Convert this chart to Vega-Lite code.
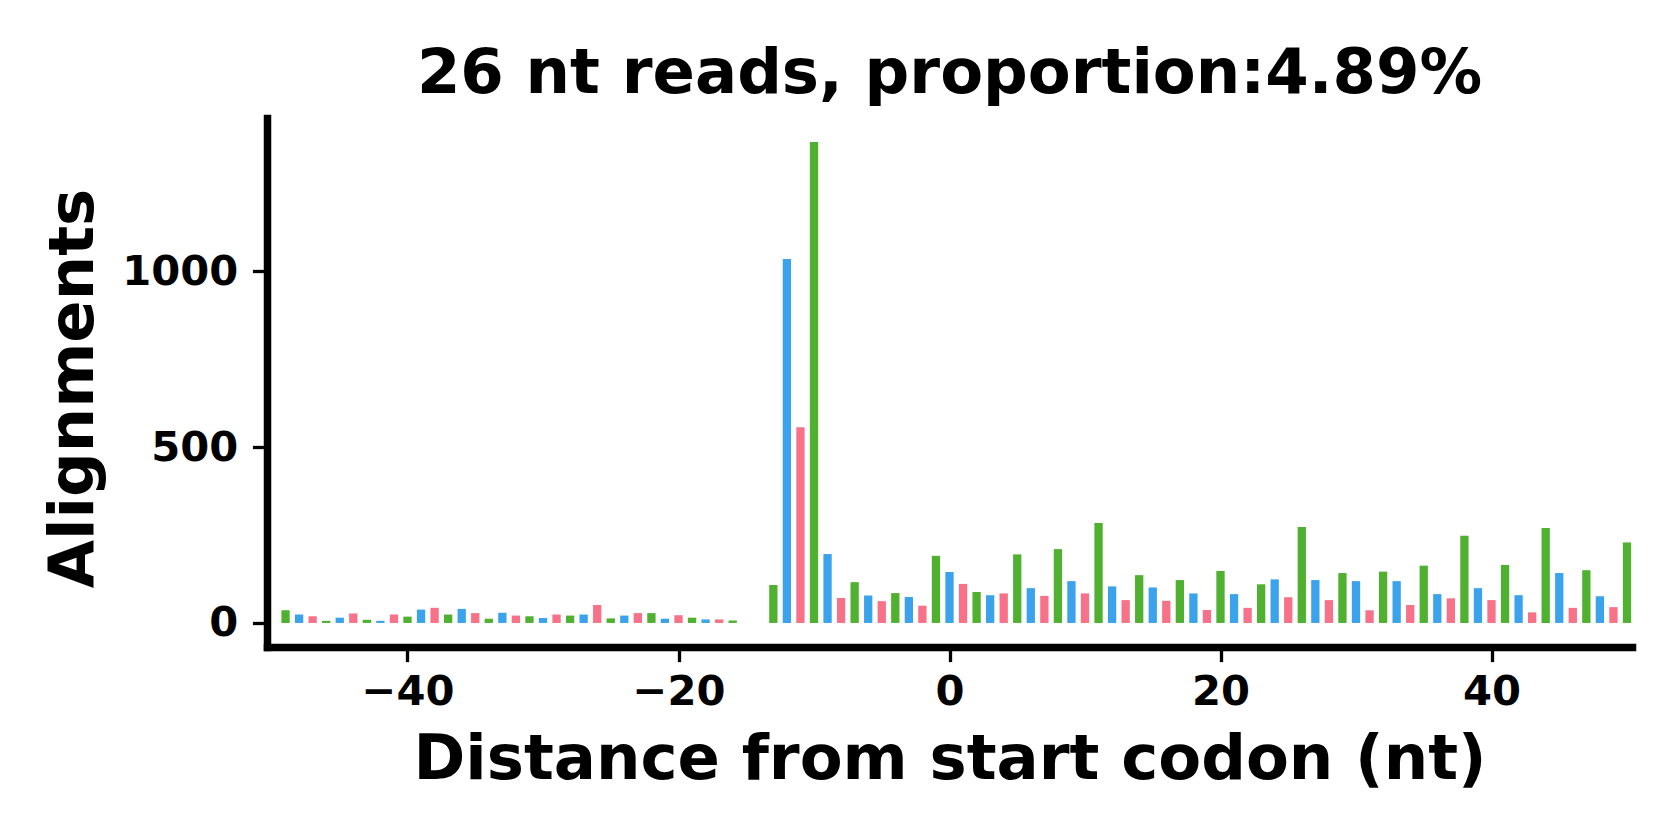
{
  "$schema": "https://vega.github.io/schema/vega-lite/v6.json",
  "autosize": "none",
  "width": 1365,
  "height": 529,
  "padding": {"left": 267, "top": 118, "right": 48, "bottom": 193},
  "background": "white",
  "title": {
    "text": "26 nt reads, proportion:4.89%",
    "font": "DejaVu Sans",
    "fontSize": 62.5,
    "fontWeight": "bold",
    "color": "black",
    "anchor": "middle",
    "baseline": "alphabetic",
    "offset": 25,
    "dy": 62
  },
  "data": {
    "values": [
      {"pos": -49, "count": 36, "frame": "2"},
      {"pos": -48, "count": 24, "frame": "0"},
      {"pos": -47, "count": 19, "frame": "1"},
      {"pos": -46, "count": 6, "frame": "2"},
      {"pos": -45, "count": 15, "frame": "0"},
      {"pos": -44, "count": 27, "frame": "1"},
      {"pos": -43, "count": 9, "frame": "2"},
      {"pos": -42, "count": 6, "frame": "0"},
      {"pos": -41, "count": 24, "frame": "1"},
      {"pos": -40, "count": 18, "frame": "2"},
      {"pos": -39, "count": 38, "frame": "0"},
      {"pos": -38, "count": 43, "frame": "1"},
      {"pos": -37, "count": 24, "frame": "2"},
      {"pos": -36, "count": 40, "frame": "0"},
      {"pos": -35, "count": 28, "frame": "1"},
      {"pos": -34, "count": 12, "frame": "2"},
      {"pos": -33, "count": 29, "frame": "0"},
      {"pos": -32, "count": 21, "frame": "1"},
      {"pos": -31, "count": 19, "frame": "2"},
      {"pos": -30, "count": 14, "frame": "0"},
      {"pos": -29, "count": 24, "frame": "1"},
      {"pos": -28, "count": 21, "frame": "2"},
      {"pos": -27, "count": 24, "frame": "0"},
      {"pos": -26, "count": 51, "frame": "1"},
      {"pos": -25, "count": 13, "frame": "2"},
      {"pos": -24, "count": 21, "frame": "0"},
      {"pos": -23, "count": 28, "frame": "1"},
      {"pos": -22, "count": 28, "frame": "2"},
      {"pos": -21, "count": 12, "frame": "0"},
      {"pos": -20, "count": 22, "frame": "1"},
      {"pos": -19, "count": 15, "frame": "2"},
      {"pos": -18, "count": 10, "frame": "0"},
      {"pos": -17, "count": 10, "frame": "1"},
      {"pos": -16, "count": 7, "frame": "2"},
      {"pos": -15, "count": 0, "frame": "0"},
      {"pos": -14, "count": 0, "frame": "1"},
      {"pos": -13, "count": 108, "frame": "2"},
      {"pos": -12, "count": 1035, "frame": "0"},
      {"pos": -11, "count": 557, "frame": "1"},
      {"pos": -10, "count": 1368, "frame": "2"},
      {"pos": -9, "count": 196, "frame": "0"},
      {"pos": -8, "count": 71, "frame": "1"},
      {"pos": -7, "count": 116, "frame": "2"},
      {"pos": -6, "count": 78, "frame": "0"},
      {"pos": -5, "count": 62, "frame": "1"},
      {"pos": -4, "count": 85, "frame": "2"},
      {"pos": -3, "count": 74, "frame": "0"},
      {"pos": -2, "count": 49, "frame": "1"},
      {"pos": -1, "count": 191, "frame": "2"},
      {"pos": 0, "count": 145, "frame": "0"},
      {"pos": 1, "count": 111, "frame": "1"},
      {"pos": 2, "count": 88, "frame": "2"},
      {"pos": 3, "count": 79, "frame": "0"},
      {"pos": 4, "count": 84, "frame": "1"},
      {"pos": 5, "count": 195, "frame": "2"},
      {"pos": 6, "count": 99, "frame": "0"},
      {"pos": 7, "count": 77, "frame": "1"},
      {"pos": 8, "count": 210, "frame": "2"},
      {"pos": 9, "count": 119, "frame": "0"},
      {"pos": 10, "count": 84, "frame": "1"},
      {"pos": 11, "count": 284, "frame": "2"},
      {"pos": 12, "count": 104, "frame": "0"},
      {"pos": 13, "count": 65, "frame": "1"},
      {"pos": 14, "count": 136, "frame": "2"},
      {"pos": 15, "count": 101, "frame": "0"},
      {"pos": 16, "count": 63, "frame": "1"},
      {"pos": 17, "count": 122, "frame": "2"},
      {"pos": 18, "count": 84, "frame": "0"},
      {"pos": 19, "count": 37, "frame": "1"},
      {"pos": 20, "count": 148, "frame": "2"},
      {"pos": 21, "count": 82, "frame": "0"},
      {"pos": 22, "count": 43, "frame": "1"},
      {"pos": 23, "count": 110, "frame": "2"},
      {"pos": 24, "count": 124, "frame": "0"},
      {"pos": 25, "count": 73, "frame": "1"},
      {"pos": 26, "count": 273, "frame": "2"},
      {"pos": 27, "count": 122, "frame": "0"},
      {"pos": 28, "count": 65, "frame": "1"},
      {"pos": 29, "count": 142, "frame": "2"},
      {"pos": 30, "count": 119, "frame": "0"},
      {"pos": 31, "count": 36, "frame": "1"},
      {"pos": 32, "count": 146, "frame": "2"},
      {"pos": 33, "count": 119, "frame": "0"},
      {"pos": 34, "count": 51, "frame": "1"},
      {"pos": 35, "count": 163, "frame": "2"},
      {"pos": 36, "count": 82, "frame": "0"},
      {"pos": 37, "count": 70, "frame": "1"},
      {"pos": 38, "count": 248, "frame": "2"},
      {"pos": 39, "count": 99, "frame": "0"},
      {"pos": 40, "count": 65, "frame": "1"},
      {"pos": 41, "count": 165, "frame": "2"},
      {"pos": 42, "count": 79, "frame": "0"},
      {"pos": 43, "count": 30, "frame": "1"},
      {"pos": 44, "count": 270, "frame": "2"},
      {"pos": 45, "count": 142, "frame": "0"},
      {"pos": 46, "count": 43, "frame": "1"},
      {"pos": 47, "count": 150, "frame": "2"},
      {"pos": 48, "count": 76, "frame": "0"},
      {"pos": 49, "count": 45, "frame": "1"},
      {"pos": 50, "count": 229, "frame": "2"}
    ]
  },
  "mark": {"type": "bar", "size": 8.3, "clip": true},
  "encoding": {
    "x": {
      "field": "pos",
      "type": "quantitative",
      "scale": {"domain": [-50, 50], "nice": false, "zero": false},
      "axis": {
        "title": "Distance from start codon (nt)",
        "values": [-40, -20, 0, 20, 40],
        "format": "d",
        "labelPadding": 10,
        "titlePadding": 16
      }
    },
    "y": {
      "field": "count",
      "type": "quantitative",
      "scale": {"domain": [-68.4, 1436.4], "nice": false, "zero": false},
      "axis": {
        "title": "Alignments",
        "values": [0, 500, 1000],
        "format": "d",
        "titlePadding": 16,
        "titleY": 270
      }
    },
    "y2": {"datum": 0},
    "color": {
      "field": "frame",
      "type": "nominal",
      "scale": {"domain": ["0", "1", "2"], "range": ["#3ba3ec", "#f77189", "#50b131"]},
      "legend": null
    }
  },
  "config": {
    "view": {"stroke": null},
    "axis": {
      "grid": false,
      "domainColor": "black",
      "domainWidth": 7.5,
      "domainCap": "square",
      "tickColor": "black",
      "tickWidth": 3.3,
      "tickSize": 14.6,
      "labelPadding": 14.6,
      "labelFont": "DejaVu Sans",
      "labelFontSize": 41.7,
      "labelFontWeight": "bold",
      "labelColor": "black",
      "titleFont": "DejaVu Sans",
      "titleFontSize": 62.5,
      "titleFontWeight": "bold",
      "titleColor": "black",
      "labelFlush": false,
      "labelOverlap": false
    }
  }
}
